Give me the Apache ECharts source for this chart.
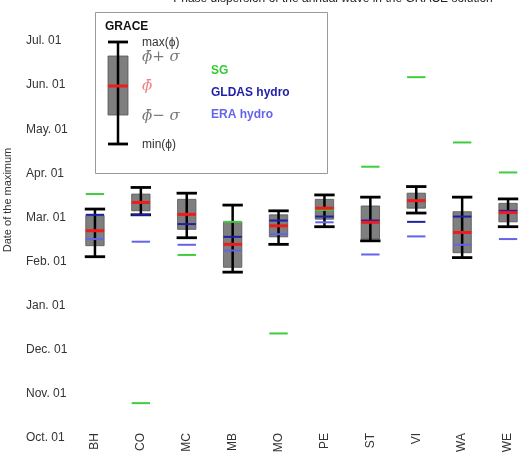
<!DOCTYPE html>
<html>
<head>
<meta charset="utf-8">
<script src="https://cdn.jsdelivr.net/npm/echarts@6/dist/echarts.min.js"></script>
<style>
  html, body { margin: 0; padding: 0; background: #fff; }
  #main { width: 531px; height: 466px; }
</style>
</head>
<body>
<div id="main"></div>
<script>
// stations and y tick labels
const stations = ['BH', 'CO', 'MC', 'MB', 'MO', 'PE', 'ST', 'VI', 'WA', 'WE'];
const monthLabels = ['Oct. 01', 'Nov. 01', 'Dec. 01', 'Jan. 01', 'Feb. 01',
  'Mar. 01', 'Apr. 01', 'May. 01', 'Jun. 01', 'Jul. 01'];

// values in months counted from Oct. 01
const graceMin  = [4.11, 5.06, 4.54, 3.76, 4.39, 4.79, 4.47, 5.10, 4.09, 4.79];
const graceLow  = [4.36, 5.15, 4.73, 3.87, 4.56, 4.96, 4.51, 5.21, 4.20, 4.90];
const graceMean = [4.70, 5.34, 5.07, 4.39, 4.81, 5.21, 4.89, 5.38, 4.66, 5.11];
const graceHigh = [5.04, 5.53, 5.41, 4.90, 5.06, 5.41, 5.26, 5.55, 5.13, 5.32];
const graceMax  = [5.19, 5.68, 5.55, 5.28, 5.15, 5.51, 5.46, 5.70, 5.46, 5.42];
const sg    = [5.53, 0.79, 4.15, 4.90, 2.37, 5.17, 6.15, 8.18, 6.70, 6.02];
const gldas = [5.06, 5.06, 4.85, 4.56, 4.93, 5.02, 4.93, 4.90, 5.02, 5.15];
const era   = [4.51, 4.45, 4.38, 4.25, 4.62, 4.89, 4.16, 4.57, 4.38, 4.51];

const C_GREEN = '#3fcc3f';
const C_DBLUE = '#1f1fa8';
const C_LBLUE = '#6464ea';
const C_RED = '#ee1c1c';

const chart = echarts.init(document.getElementById('main'));

function boxItem(params, api) {
  const i = api.value(0);
  const pMin = api.coord([i, api.value(1)]);
  const pLow = api.coord([i, api.value(2)]);
  const pHigh = api.coord([i, api.value(4)]);
  const pMax = api.coord([i, api.value(5)]);
  const w = api.size([1, 0])[0] * 0.4;
  const cx = pMin[0];
  return {
    type: 'group',
    children: [
      { type: 'rect', shape: { x: cx - w / 2, y: pHigh[1], width: w, height: pLow[1] - pHigh[1] },
        style: { fill: '#7f7f7f', stroke: '#555', lineWidth: 0.8 } },
      { type: 'line', shape: { x1: cx, y1: pMax[1], x2: cx, y2: pMin[1] },
        style: { stroke: '#000', lineWidth: 2.5 } },
      { type: 'line', shape: { x1: cx - w / 2 - 1, y1: pMax[1], x2: cx + w / 2 + 1, y2: pMax[1] },
        style: { stroke: '#000', lineWidth: 2.8 } },
      { type: 'line', shape: { x1: cx - w / 2 - 1, y1: pMin[1], x2: cx + w / 2 + 1, y2: pMin[1] },
        style: { stroke: '#000', lineWidth: 2.8 } }
    ]
  };
}

function tickSeries(name, values, color, width, z) {
  return {
    name: name,
    type: 'custom',
    z: z,
    data: values.map((v, i) => [i, v]),
    encode: { x: 0, y: 1 },
    renderItem: function (params, api) {
      const p = api.coord([api.value(0), api.value(1)]);
      const w = api.size([1, 0])[0] * 0.4;
      return {
        type: 'line',
        shape: { x1: p[0] - w / 2, y1: p[1], x2: p[0] + w / 2, y2: p[1] },
        style: { stroke: color, lineWidth: width }
      };
    }
  };
}

const mathFont = '"DejaVu Serif", "Liberation Serif", serif';

chart.setOption({
  animation: false,
  grid: { left: 72, top: 41, width: 463, height: 397 },
  xAxis: {
    type: 'category',
    data: stations,
    axisLine: { show: false },
    axisTick: { show: false },
    axisLabel: { rotate: 90, margin: -5, fontSize: 12, color: '#333', fontFamily: 'Liberation Sans, Arial, sans-serif' }
  },
  yAxis: {
    type: 'value',
    min: 0,
    max: 9,
    interval: 1,
    axisLine: { show: false },
    axisTick: { show: false },
    splitLine: { show: false },
    axisLabel: {
      formatter: v => monthLabels[v],
      align: 'left',
      margin: 46,
      fontSize: 12,
      color: '#333',
      fontFamily: 'Liberation Sans, Arial, sans-serif'
    }
  },
  series: [
    {
      name: 'GRACE',
      type: 'custom',
      z: 2,
      data: stations.map((s, i) => [i, graceMin[i], graceLow[i], graceMean[i], graceHigh[i], graceMax[i]]),
      encode: { x: 0, y: [1, 2, 3, 4, 5] },
      renderItem: boxItem
    },
    tickSeries('ERA hydro', era, C_LBLUE, 2, 3),
    tickSeries('GLDAS hydro', gldas, C_DBLUE, 2, 3),
    tickSeries('SG', sg, C_GREEN, 2, 3),
    tickSeries('GRACE mean', graceMean, C_RED, 3, 4)
  ],
  graphic: [
    { type: 'text', x: 333, y: -1,
      style: { text: 'Phase dispersion of the annual wave in the GRACE solution', fill: '#222',
        font: '12px "Liberation Sans", Arial, sans-serif', textAlign: 'center', textVerticalAlign: 'middle' } },
    { type: 'text', x: 8, y: 200, rotation: Math.PI / 2,
      style: { text: 'Date of the maximum', fill: '#333',
        font: '11px "Liberation Sans", Arial, sans-serif', textAlign: 'center', textVerticalAlign: 'middle' } },
    // legend box
    { type: 'rect', shape: { x: 95.5, y: 12.5, width: 232, height: 161 },
      style: { fill: '#fff', stroke: '#999', lineWidth: 1 }, z: 10 },
    { type: 'text', x: 105, y: 27, z: 11,
      style: { text: 'GRACE', fill: '#111', font: 'bold 12px "Liberation Sans", Arial, sans-serif', textVerticalAlign: 'middle' } },
    { type: 'rect', shape: { x: 108, y: 56, width: 20, height: 59 }, z: 11,
      style: { fill: '#7f7f7f', stroke: '#555', lineWidth: 0.8 } },
    { type: 'line', shape: { x1: 118, y1: 42, x2: 118, y2: 144 }, z: 11, style: { stroke: '#000', lineWidth: 2.5 } },
    { type: 'line', shape: { x1: 108, y1: 42, x2: 128, y2: 42 }, z: 11, style: { stroke: '#000', lineWidth: 2.8 } },
    { type: 'line', shape: { x1: 108, y1: 144, x2: 128, y2: 144 }, z: 11, style: { stroke: '#000', lineWidth: 2.8 } },
    { type: 'line', shape: { x1: 108, y1: 86, x2: 128, y2: 86 }, z: 11, style: { stroke: C_RED, lineWidth: 3 } },
    { type: 'text', x: 142, y: 43, z: 11,
      style: { text: 'max(ϕ)', fill: '#333', font: '12px "Liberation Sans", Arial, sans-serif', textVerticalAlign: 'middle' } },
    { type: 'text', x: 142, y: 57, z: 11,
      style: { text: 'ϕ̄+ σ', fill: '#777', font: 'italic 15px ' + mathFont, textVerticalAlign: 'middle' } },
    { type: 'text', x: 142, y: 86, z: 11,
      style: { text: 'ϕ̄', fill: '#f08080', font: 'italic 15px ' + mathFont, textVerticalAlign: 'middle' } },
    { type: 'text', x: 142, y: 116, z: 11,
      style: { text: 'ϕ̄− σ', fill: '#777', font: 'italic 15px ' + mathFont, textVerticalAlign: 'middle' } },
    { type: 'text', x: 142, y: 145, z: 11,
      style: { text: 'min(ϕ)', fill: '#333', font: '12px "Liberation Sans", Arial, sans-serif', textVerticalAlign: 'middle' } },
    { type: 'text', x: 211, y: 71, z: 11,
      style: { text: 'SG', fill: '#33cc33', font: 'bold 12px "Liberation Sans", Arial, sans-serif', textVerticalAlign: 'middle' } },
    { type: 'text', x: 211, y: 93, z: 11,
      style: { text: 'GLDAS hydro', fill: C_DBLUE, font: 'bold 12px "Liberation Sans", Arial, sans-serif', textVerticalAlign: 'middle' } },
    { type: 'text', x: 211, y: 115, z: 11,
      style: { text: 'ERA hydro', fill: C_LBLUE, font: 'bold 12px "Liberation Sans", Arial, sans-serif', textVerticalAlign: 'middle' } }
  ]
});
</script>
</body>
</html>
